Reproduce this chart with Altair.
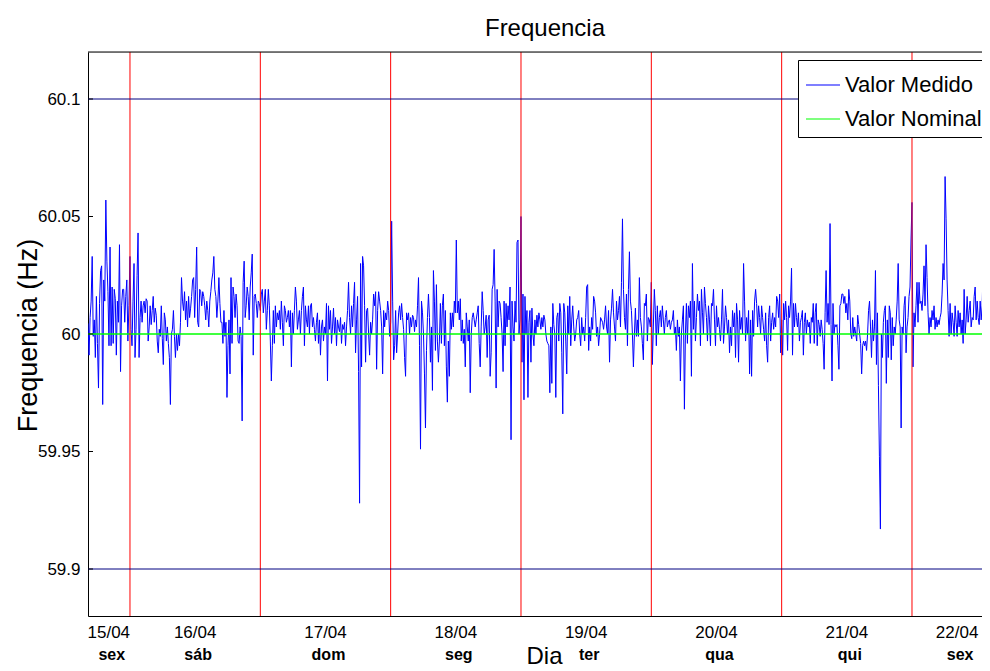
import altair as alt
import pandas as pd

FONT = "Liberation Sans"

d15 = [4.5, -9, 7, 14, 33, -1, 6, -10, 16, -4, -23, 13, 27, 29, -30, 23, 14, 57, 31, 18,
       -5, 37, -5, 20, -4, 19, 15, -9, 14, 5, 38, -16, 12, 19, 19, 5, 16, 23, -3, 12]
d16 = [33, 2, -5, 14, 30, -10, 2, 25, 43, -10, 7, 14, 5, 12, 14, 9, 15, 14, -3, 3,
       12, 4, 10, 16, 5, 11, 8, -3, -8, 2, -1, 12, -2, -13, 9, 6, -3, 3, -4, -10,
       -30, 0, 2, 10, -1, -10, 0, -7, 0, -5, 5, 24, 14, 10, 18, 6, 14, 3, 16, 7,
       11, 16, 23, 24, 7, 19, 37, 5, 3, 19, 18, 12, 18, 16, 12, 6, 14, 10, 3, 14,
       18, 23, 26, 33, 19, 16, 7, 14, 24, 13, 5, 5, -4, 10, -1, 5, -27, -5, 6, -17,
       24, -4, 20, 16, 7, 17, 12, -3, -4, 3, -1, -37, 22, 31, 7, 12, 20, 16, 6, 20,
       26, 34, -9, 16, 17, 13, 7, 14, 13]
d17 = [10, 17, 19, 9, 14, 19, 2, 10, 19, 12, -3, -20, -5, 10, -4, 12, 3, 9, 6, 10,
       2, 14, 5, -5, 12, 10, 5, 7, 10, 3, 10, -14, 9, 0, 10, 20, 14, 2, 6, 10,
       0, 10, 16, 20, -5, 12, 6, 3, 12, 0, 12, 13, 3, 7, 2, -3, 5, 9, -4, 6,
       -9, 3, 6, -3, 3, 0, 13, -20, 12, 2, 10, -4, 3, 11, 0, 7, -5, 6, 3, 1,
       7, -4, 4, 2, 5, -5, 3, 10, 22, 7, 0, 12, 3, 13, 22, -8, 6, 16, -16, -72,
       30, -14, 33, 29, 12, -12, 10, 11, 0, -9, 5, 0, 6, 17, 12, 18, -15, 10, 18, 14,
       10, 3, -17, 10, 3, 9, 6, 14, 10, -1]
d18 = [5, 48, 14, -11, -5, 10, -8, 0, 9, 12, 6, 13, 7, 2, -10, -18, 9, 6, 9, 0,
       7, 3, 8, 7, 1, 6, 3, 12, 24, -5, -49, 14, 9, 0, -17, -40, -7, 7, 17, 7,
       -12, 3, -24, 27, 14, -7, 21, -3, -12, -3, 13, -4, 12, 17, -5, 10, -14, -29, -3, -18,
       9, 2, 9, 3, 14, 9, 40, 9, 14, 6, 15, -3, 6, -4, 2, -14, 9, 3, -3, 6,
       -25, 0, 7, 9, 6, 3, 6, 9, 12, -4, -14, 3, 18, 10, 0, 3, 8, -10, 6, 8,
       -18, -8, 19, 21, 36, 14, -23, 19, 3, 14, 13, 7, 0, -16, 14, -5, 13, 3, 12, 6,
       20, -45, 14, 3, -3, 14, 5, 39, 40, 0, 6]
d19 = [50, -12, 17, -28, 16, 0, 10, -27, 5, 10, -12, 11, 0, -5, 6, 0, 8, 3, 9, 6,
       2, 7, 3, 8, 6, 0, -3, -4, -5, -25, 3, -21, 13, 4, 0, -27, 7, 9, -3, 13,
       9, -8, -34, 13, 9, -3, -17, 12, 0, 16, -5, 6, 12, 3, -3, 0, 6, 7, 10, 0,
       -5, 7, 0, 3, -3, 7, 20, 21, -7, 3, -3, 7, 2, 16, 14, 9, -1, 3, -5, 0,
       7, 6, 5, 2, 6, 12, 3, 0, 10, -12, 6, 11, 19, 9, 3, -3, 14, 6, 10, 16,
       3, 22, 49, 19, 7, 2, 17, -5, 19, 35, 14, 10, 0, -14, 0, 11, -1, 6, -1, 24,
       7, 3, -4, -11, 13, 12, 17, -3, 7, 6, 3]
d20 = [22, -13, 3, 19, 10, -5, 12, 0, 7, 10, 3, 12, 6, 0, 7, 10, 3, 5, 6, 2,
       5, 6, 10, 0, 3, -7, 6, -1, 3, -20, 0, 6, 12, -32, 0, 13, -4, 12, 7, 14,
       -18, 30, 2, 14, -3, 7, 17, 10, 14, -5, 19, 9, 0, 20, 13, 7, -3, 12, 6, -5,
       13, 12, 19, 6, -5, 12, 3, 7, 2, -3, 6, 19, -4, 3, 12, 7, 0, 6, -8, 3,
       -5, 10, 3, 9, -10, 13, 6, -12, 10, 2, 7, 0, 30, 14, -3, 7, 0, 10, -17, 6,
       -18, 10, -1, 14, 19, 13, 3, 12, 7, 0, 12, 7, 2, -3, 9, -5, -12, 7, 12, -3,
       5, 9, 2, 7, 3, 16, 14, 7, 17, -8]
d21 = [6, -9, 13, 6, 14, 7, -7, 12, 7, 14, 28, -9, 13, 3, 13, 7, 3, 9, -3, 5,
       7, 10, -9, 5, 9, 0, 6, 3, 5, -4, 7, 5, 13, -4, 9, 13, -5, 6, 4, -1,
       6, 2, -4, -15, 9, 27, 5, 13, 4, 47, 4, -20, 13, 0, 4, 3, 4, -5, -15, 12,
       13, 17, 17, 13, 16, 9, 13, 6, 19, 14, 0, -2, 7, -1, 3, 0, -3, 8, 4, 0,
       -4, -17, -5, -3, -5, -3, -7, 0, 10, 14, 3, -10, 6, -3, 3, 27, -13, 9, -22, -52,
       -83, 0, -10, 5, 10, 12, -21, 6, -10, 12, 9, -11, 7, -5, 3, 0, 6, 14, 30, 6,
       3, -40, 3, 0, 12, 16, -8, 3, 7, 16, 20, 40]
d22 = [56, -14, 9, 3, 12, 22, 5, 22, 13, 14, 10, 17, 29, 12, 38, 24, 9, 0, 7, 3,
       10, 6, 12, 2, 7, 3, 6, 4, 7, 9, 17, 30, 23, 67, 49, 23, 10, -1, 13, 0,
       9, 5, -1, 12, 5, -1, 10, 3, 9, 0, 6, -4, 19, 0, 6, 16, 5, 10, 14, 3,
       7, 6, 16, 20, 6, 14, 7, 4, 14, 6, 12, 31, 14, 6, -5, 14, 12, 9]

# horas contadas a partir de 15/04 00:00
inicio = 16.27        # primeiro registo
fim_visivel = 180.89  # limite direito visivel do eixo
fim_ultimo = 182.4    # ultimo registo lido
trechos = [(inicio, 24, d15), (24, 48, d16), (48, 72, d17), (72, 96, d18),
           (96, 120, d19), (120, 144, d20), (144, 168, d21), (168, fim_ultimo, d22)]

meia_noite = [24, 48, 72, 96, 120, 144, 168]
limites = [59.9, 60.1]
nominal = 60.0
ticks_y = [59.9, 59.95, 60.0, 60.05, 60.1]
rotulos_data = ["15/04", "16/04", "17/04", "18/04", "19/04", "20/04", "21/04", "22/04"]
rotulos_semana = ["sex", "sáb", "dom", "seg", "ter", "qua", "qui", "sex"]
hora_rotulo = [20.1, 36, 60, 84, 108, 132, 156, 176.3]

rows = []
for a, b, vals in trechos:
    n = len(vals)
    for i, v in enumerate(vals):
        rows.append({"hora": a + (b - a) * i / n, "freq": nominal + v / 1000.0,
                     "serie": "Valor Medido"})
df_med = pd.DataFrame(rows)
df_nom = pd.DataFrame({"hora": [inicio, fim_visivel], "freq": [nominal, nominal],
                       "serie": ["Valor Nominal", "Valor Nominal"]})
df_mn = pd.DataFrame({"hora": meia_noite})
df_lim = pd.DataFrame({"freq": limites})
df_ticks = pd.DataFrame({"freq": ticks_y})
df_rot = pd.DataFrame({"hora": hora_rotulo, "data": rotulos_data, "semana": rotulos_semana})

W, H = 894, 564

xscale = alt.Scale(domain=[inicio, fim_visivel], nice=False, zero=False)
yscale = alt.Scale(domain=[59.88, 60.12], nice=False, zero=False)
xaxis = alt.Axis(title="Dia", labels=False, ticks=False, grid=False, domainColor="black",
                 domainWidth=1, titleFont=FONT, titleFontSize=24, titleFontWeight="normal",
                 titleColor="black", titleX=456, titleY=40, titleBaseline="middle",
                 titleAlign="center")
yaxis = alt.Axis(title="Frequencia (Hz)", values=ticks_y, format=".2~f", ticks=False,
                 tickSize=0, grid=False, domainColor="black", domainWidth=1,
                 labelFont=FONT, labelFontSize=17, labelColor="black", labelPadding=8,
                 titleFont=FONT, titleFontSize=27, titleFontWeight="normal",
                 titleColor="black", titleX=-60, titleY=283, titleBaseline="middle",
                 titleAlign="center", titleAngle=270)


def X(f):
    return alt.X(f, type="quantitative", scale=xscale, axis=xaxis)


def Y(f):
    return alt.Y(f, type="quantitative", scale=yscale, axis=yaxis)


cor = alt.Color("serie:N",
                scale=alt.Scale(domain=["Valor Medido", "Valor Nominal"],
                                range=["#0000ff", "#00ff00"]),
                legend=alt.Legend(title=None, orient="none", legendX=710, legendY=8,
                                  symbolType="stroke", symbolSize=1156,
                                  symbolStrokeWidth=1.2, labelFont=FONT,
                                  labelFontSize=22, labelColor="black", labelOffset=4,
                                  labelLimit=400, padding=7, rowPadding=5,
                                  strokeColor="black", fillColor="white"))

medido = alt.Chart(df_med).mark_line(strokeWidth=1, clip=True).encode(
    x=X("hora"), y=Y("freq"), color=cor)
nomin = alt.Chart(df_nom).mark_line(strokeWidth=1.6, clip=True).encode(
    x=X("hora"), y=Y("freq"), color=cor)
linhas_dia = alt.Chart(df_mn).mark_rule(color="#ff0000", strokeWidth=1).encode(x=X("hora"))
linhas_lim = alt.Chart(df_lim).mark_rule(color="#000080", strokeWidth=1).encode(y=Y("freq"))
ticks = alt.Chart(df_ticks).mark_rule(color="black", strokeWidth=1).encode(
    y=Y("freq"), x=alt.value(0), x2=alt.value(5))
topo = alt.Chart(pd.DataFrame({"k": [0]})).mark_rule(color="black", strokeWidth=1).encode(
    y=alt.value(0), x=alt.value(0), x2=alt.value(W))
txt_data = alt.Chart(df_rot).mark_text(font=FONT, fontSize=17, color="black",
                                       align="center", baseline="middle").encode(
    x=X("hora"), y=alt.value(H + 17), text="data:N")
txt_sem = alt.Chart(df_rot).mark_text(font=FONT, fontSize=16, fontWeight="bold",
                                      color="black", align="center", baseline="middle",
                                      dx=3).encode(
    x=X("hora"), y=alt.value(H + 39), text="semana:N")

chart = alt.layer(medido, nomin, linhas_dia, linhas_lim, ticks, topo, txt_data, txt_sem).properties(
    width=W, height=H,
    title=alt.TitleParams("Frequencia", font=FONT, fontSize=24, fontWeight="normal",
                          color="black", offset=11, dx=10),
    autosize=alt.AutoSizeParams(type="none"),
    padding={"left": 80, "top": 44, "right": 0, "bottom": 53},
).configure_view(stroke=None).configure(background="white")

chart.save("out.html", embed_options={"renderer": "svg", "actions": False})
